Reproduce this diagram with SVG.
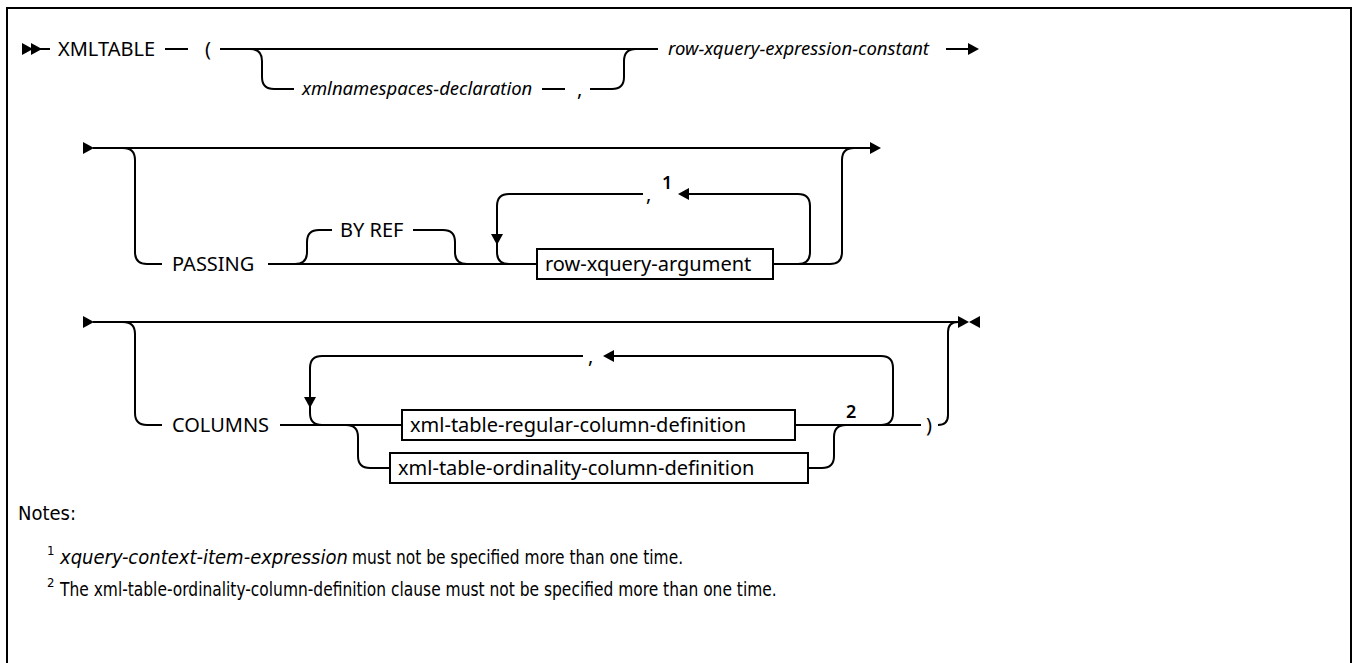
<svg xmlns="http://www.w3.org/2000/svg" width="1353" height="663" viewBox="0 0 1353 663">
<style>
.ln{fill:none;stroke:#000;stroke-width:2}
.bx{fill:#fff;stroke:#000;stroke-width:2}
.ah{fill:#000}
text{font-family:"Noto Sans","Liberation Sans",sans-serif;font-size:20px;fill:#000}
.it{font-style:italic;font-size:18.5px}
.num{font-size:18px;font-weight:600}
.nt{font-family:"DejaVu Sans Condensed","Liberation Sans",sans-serif;font-size:20px}
.nti{font-family:"DejaVu Sans Condensed","Liberation Sans",sans-serif;font-size:20px;font-style:italic}
.sup{font-family:"DejaVu Sans Condensed","Liberation Sans",sans-serif;font-size:13px}
</style>
<defs>
<path id="ar" d="M0,-6 L11,0 L0,6 Z"/>
</defs>
<rect x="0" y="0" width="1353" height="663" fill="#fff"/>
<path class="ln" d="M7,663 V8 H1351 V663"/>

<g id="connectors">
<use href="#ar" class="ah" x="22" y="49"/>
<use href="#ar" class="ah" x="31" y="49"/>
<path class="ln" d="M40,49 H50"/>
<path class="ln" d="M165,49 H188"/>
<path class="ln" d="M220,49 H658"/>
<path class="ln" d="M250,49 Q262,49 262,61 V77 Q262,89 274,89 H294"/>
<path class="ln" d="M542,89 H565"/>
<path class="ln" d="M590,89 H612 Q624,89 624,77 V61 Q624,49 636,49"/>
<path class="ln" d="M946,49 H969"/>
<use href="#ar" class="ah" x="968" y="49"/>

<use href="#ar" class="ah" x="83" y="148"/>
<path class="ln" d="M93,148 H871"/>
<use href="#ar" class="ah" x="870" y="148"/>
<path class="ln" d="M123,148 Q135,148 135,160 V252 Q135,264 147,264 H162"/>
<path class="ln" d="M268,264 H537"/>
<path class="ln" d="M295,264 Q307,264 307,252 V242 Q307,230 319,230 H332"/>
<path class="ln" d="M413,230 H443 Q455,230 455,242 V252 Q455,264 467,264"/>
<path class="ln" d="M509,264 Q497,264 497,252 V206 Q497,194 509,194 H643"/>
<use href="#ar" class="ah" transform="translate(497,234) rotate(90)"/>
<use href="#ar" class="ah" transform="translate(689,194) rotate(180)"/>
<path class="ln" d="M688,194 H798 Q810,194 810,206 V252 Q810,264 798,264"/>
<path class="ln" d="M773,264 H830 Q842,264 842,252 V160 Q842,148 854,148"/>

<use href="#ar" class="ah" x="83" y="322"/>
<path class="ln" d="M93,322 H959"/>
<use href="#ar" class="ah" x="958" y="322"/>
<use href="#ar" class="ah" transform="translate(980,322) rotate(180)"/>
<path class="ln" d="M123,322 Q135,322 135,334 V413 Q135,425 147,425 H162"/>
<path class="ln" d="M280,425 H402"/>
<path class="ln" d="M322,425 Q310,425 310,413 V368 Q310,356 322,356 H583"/>
<use href="#ar" class="ah" transform="translate(310,397) rotate(90)"/>
<use href="#ar" class="ah" transform="translate(614,356) rotate(180)"/>
<path class="ln" d="M613,356 H881 Q893,356 893,368 V413 Q893,425 881,425"/>
<path class="ln" d="M795,425 H921"/>
<path class="ln" d="M346,425 Q358,425 358,437 V456 Q358,468 370,468 H390"/>
<path class="ln" d="M808,468 H822 Q834,468 834,456 V437 Q834,425 846,425"/>
<path class="ln" d="M938,425 Q948,425 948,415 V332 Q948,322 958,322"/>
</g>

<g id="n-xmltable"><text x="58" y="56">XMLTABLE</text></g>
<g id="n-lparen"><text x="205" y="56">(</text></g>
<g id="n-xmlns"><text class="it" x="302" y="95">xmlnamespaces-declaration</text></g>
<g id="n-comma1"><text x="577" y="96">,</text></g>
<g id="n-rowexpr"><text class="it" x="668" y="55">row-xquery-expression-constant</text></g>

<g id="n-passing"><text x="172" y="271">PASSING</text></g>
<g id="n-byref"><text x="340" y="237">BY REF</text></g>
<g id="n-comma2"><text x="646" y="201">,</text><text class="num" x="662" y="189">1</text></g>
<g id="n-rowarg"><rect class="bx" x="537" y="249" width="236" height="30"/><text x="545" y="271">row-xquery-argument</text></g>

<g id="n-columns"><text x="172" y="432">COLUMNS</text></g>
<g id="n-comma3"><text x="588" y="363">,</text></g>
<g id="n-regular"><rect class="bx" x="402" y="410" width="393" height="30"/><text x="410" y="432">xml-table-regular-column-definition</text></g>
<g id="n-ordinality"><rect class="bx" x="390" y="453" width="418" height="30"/><text x="398" y="475">xml-table-ordinality-column-definition</text></g>
<g id="n-note2mark"><text class="num" x="846" y="418">2</text></g>
<g id="n-rparen"><text x="926" y="432">)</text></g>

<g id="notes">
<text class="nt" x="18" y="520">Notes:</text>
<text class="sup" x="47" y="555">1</text>
<text class="nti" x="60" y="564">xquery-context-item-expression</text>
<text class="nt" transform="translate(352,564) scale(0.86,1)">must not be specified more than one time.</text>
<text class="sup" x="47" y="587">2</text>
<text class="nt" transform="translate(60,596) scale(0.86,1)">The xml-table-ordinality-column-definition clause must not be specified more than one time.</text>
</g>
</svg>
